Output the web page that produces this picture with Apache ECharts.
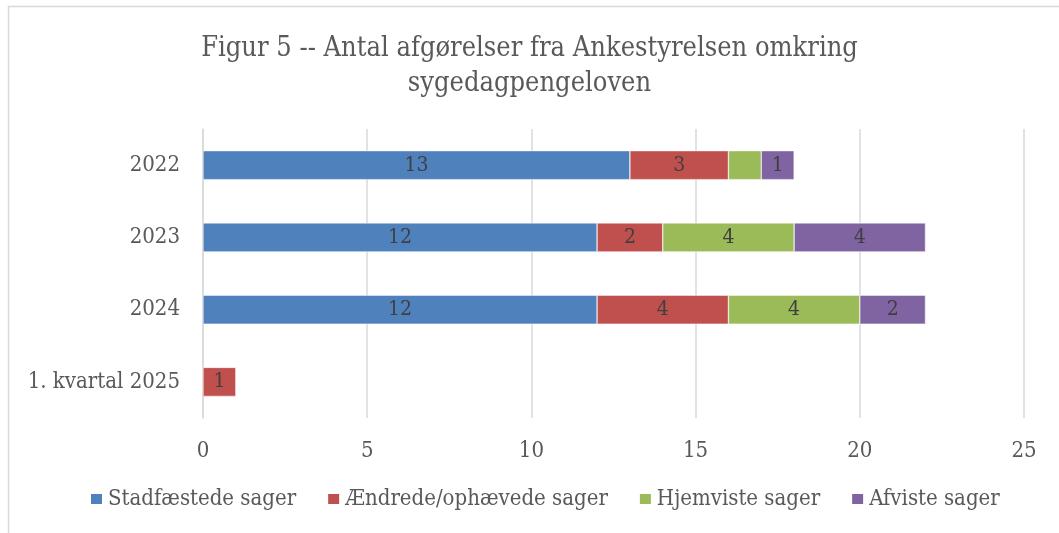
<!DOCTYPE html>
<html><head><meta charset="utf-8">
<script src="https://cdn.jsdelivr.net/npm/echarts@6/dist/echarts.min.js"></script>
<style>html,body{margin:0;padding:0;background:#fff}#c{width:1059px;height:533px}</style>
</head><body><div id="c"></div>
<script>
const categories = ['2022', '2023', '2024', '1. kvartal 2025'];
const seriesNames = ['Stadfæstede sager', 'Ændrede/ophævede sager', 'Hjemviste sager', 'Afviste sager'];
const stadfaestede = [13, 12, 12, null];
const aendrede = [3, 2, 4, 1];
const hjemviste = [1, 4, 4, null];
const afviste = [1, 4, 2, null];
const xTicks = [0, 5, 10, 15, 20, 25];
// data labels not shown in the original: [seriesIndex, categoryIndex]
const hiddenLabels = [[2, 0]];

const colors = ['#4F81BD', '#C0504D', '#9BBB59', '#8064A2'];
const font = '"DejaVu Serif Condensed", "DejaVu Serif", serif';
const allData = [stadfaestede, aendrede, hjemviste, afviste];

const chart = echarts.init(document.getElementById('c'));
chart.setOption({
  animation: false,
  textStyle: {fontFamily: font},
  title: {
    text: 'Figur 5 -- Antal afgørelser fra Ankestyrelsen omkring\nsygedagpengeloven',
    left: 'center', top: 26,
    textStyle: {fontFamily: font, fontSize: 27, fontWeight: 'normal', color: '#595959', lineHeight: 35}
  },
  graphic: [{
    type: 'rect', shape: {x: 8.5, y: 6.5, width: 1200, height: 700},
    style: {fill: 'none', stroke: '#d9d9d9', lineWidth: 1.5}, silent: true
  }],
  legend: {
    bottom: 18, left: 84, itemWidth: 13, itemHeight: 12, itemGap: 30,
    icon: 'rect',
    textStyle: {fontFamily: font, fontSize: 22, color: '#595959'},
    data: seriesNames
  },
  grid: {left: 203, right: 35, top: 129, bottom: 115, containLabel: false},
  xAxis: {
    type: 'value', min: xTicks[0], max: xTicks[xTicks.length - 1], interval: xTicks[1] - xTicks[0],
    axisLine: {show: false}, axisTick: {show: false},
    splitLine: {lineStyle: {color: '#d9d9d9', width: 1.5}},
    axisLabel: {fontFamily: font, fontSize: 22, color: '#595959', margin: 22}
  },
  yAxis: {
    type: 'category', data: categories, inverse: true,
    axisLine: {show: true, lineStyle: {color: '#d9d9d9', width: 1.5}},
    axisTick: {show: false},
    axisLabel: {fontFamily: font, fontSize: 22, color: '#595959', margin: 23}
  },
  series: seriesNames.map((name, si) => ({
    name, type: 'bar', stack: 'total', barWidth: 29,
    itemStyle: {color: colors[si], borderColor: '#fff', borderWidth: 0.5},
    label: {
      show: true, position: 'inside', fontFamily: font, fontSize: 21, color: '#404040',
      formatter: p => (p.value == null || p.value === 0) ? '' : String(p.value)
    },
    data: allData[si].map((v, ci) => hiddenLabels.some(h => h[0] === si && h[1] === ci)
      ? {value: v, label: {show: false}} : v)
  }))
});
</script></body></html>
